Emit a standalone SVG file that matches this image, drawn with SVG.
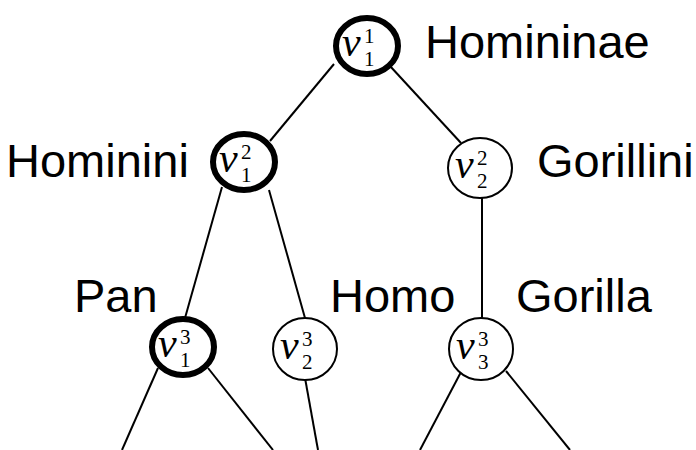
<svg xmlns="http://www.w3.org/2000/svg" width="696" height="450" viewBox="0 0 696 450">
<style>
.lbl{font-family:"Liberation Sans",Arial,sans-serif;font-size:47px;fill:#000}
.m{font-family:"Liberation Serif","Times New Roman",serif;font-size:21px;fill:#000}
.v{font-style:italic;font-size:42px}
.thick{fill:#fff;stroke:#000;stroke-width:6}
.thin{fill:#fff;stroke:#000;stroke-width:2}
.edge{stroke:#000;stroke-width:2;fill:none}
</style>
<g id="connectors">
<line class="edge" x1="334" y1="64" x2="270" y2="141"/>
<line class="edge" x1="390" y1="66" x2="461" y2="143"/>
<line class="edge" x1="222" y1="187" x2="185" y2="318"/>
<line class="edge" x1="269" y1="190" x2="305" y2="318"/>
<line class="edge" x1="482" y1="198" x2="482" y2="318"/>
<line class="edge" x1="158" y1="368" x2="122" y2="450"/>
<line class="edge" x1="208" y1="368" x2="273" y2="450"/>
<line class="edge" x1="305" y1="378" x2="318" y2="450"/>
<line class="edge" x1="461" y1="372" x2="420" y2="450"/>
<line class="edge" x1="506" y1="371" x2="570" y2="450"/>
</g>
<g id="n11">
<ellipse class="thick" cx="367" cy="46" rx="31" ry="28"/>
<text class="m"><tspan class="v" x="342" y="56">v</tspan><tspan x="364" y="43">1</tspan><tspan x="364" y="66">1</tspan></text>
<text class="lbl" x="425" y="58">Homininae</text>
</g>
<g id="n12">
<ellipse class="thick" cx="244" cy="162" rx="31" ry="28"/>
<text class="m"><tspan class="v" x="219" y="172">v</tspan><tspan x="241" y="159">2</tspan><tspan x="241" y="182">1</tspan></text>
<text class="lbl" x="6" y="177">Hominini</text>
</g>
<g id="n22">
<ellipse class="thin" cx="480" cy="168" rx="32" ry="30"/>
<text class="m"><tspan class="v" x="455" y="178">v</tspan><tspan x="477" y="165">2</tspan><tspan x="477" y="188">2</tspan></text>
<text class="lbl" x="537" y="177">Gorillini</text>
</g>
<g id="n13">
<ellipse class="thick" cx="183" cy="347" rx="31" ry="28"/>
<text class="m"><tspan class="v" x="158" y="357">v</tspan><tspan x="180" y="344">3</tspan><tspan x="180" y="367">1</tspan></text>
<text class="lbl" x="74" y="312">Pan</text>
</g>
<g id="n23">
<ellipse class="thin" cx="305" cy="349" rx="32" ry="31"/>
<text class="m"><tspan class="v" x="280" y="359">v</tspan><tspan x="302" y="346">3</tspan><tspan x="302" y="369">2</tspan></text>
<text class="lbl" x="330" y="312">Homo</text>
</g>
<g id="n33">
<ellipse class="thin" cx="481" cy="349" rx="32" ry="31"/>
<text class="m"><tspan class="v" x="456" y="359">v</tspan><tspan x="478" y="346">3</tspan><tspan x="478" y="369">3</tspan></text>
<text class="lbl" x="516" y="312">Gorilla</text>
</g>
</svg>
